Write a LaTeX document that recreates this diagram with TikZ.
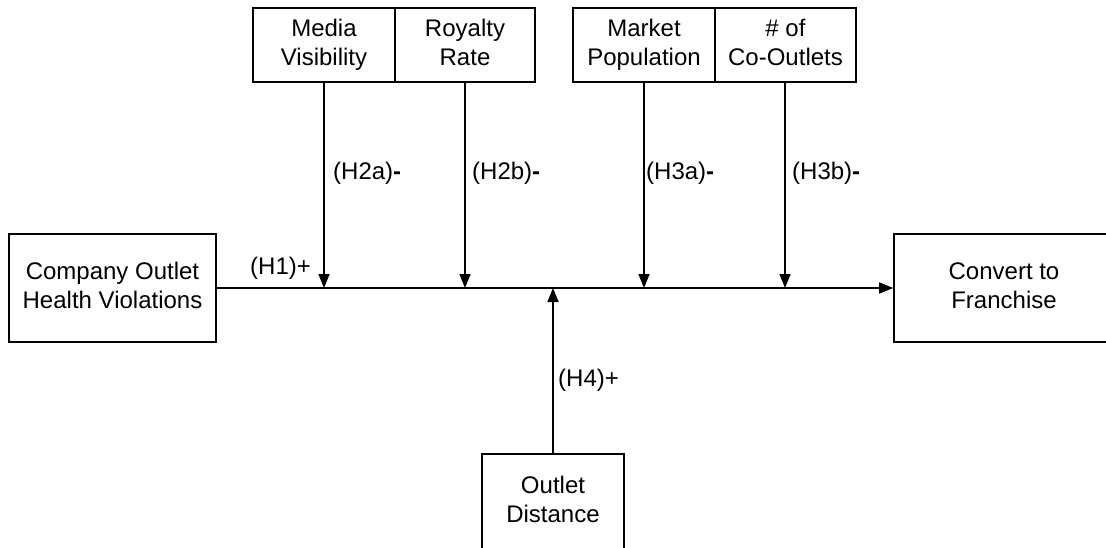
\documentclass[tikz,border=0pt]{standalone}
\usepackage{fontspec}
\setmainfont{Liberation Sans}
\usetikzlibrary{arrows.meta}
\begin{document}
\begin{tikzpicture}[x=1pt,y=-1pt,
  box/.style={draw=black,line width=1.6pt,align=center,inner sep=0pt,
    font=\fontsize{24}{29}\selectfont},
  conn/.style={line width=1.6pt,-{Triangle[length=14pt,width=11pt]}},
  lab/.style={anchor=west,inner sep=0pt,font=\fontsize{24}{29}\selectfont}]
\useasboundingbox (0,0) rectangle (1106,548);
\clip (0,0) rectangle (1106,548);
% top boxes
\node[box,minimum width=142pt,minimum height=74pt] (mv) at (324,45) {\strut Media\\\strut Visibility};
\node[box,minimum width=140pt,minimum height=74pt] (rr) at (465,45) {\strut Royalty\\\strut Rate};
\node[box,minimum width=142pt,minimum height=74pt] (mp) at (644,45) {\strut Market\\\strut Population};
\node[box,minimum width=141pt,minimum height=74pt] (co) at (785.5,45) {\strut \# of\\\strut Co-Outlets};
% side boxes
\node[box,minimum width=207pt,minimum height=108pt] (cv) at (112.5,288) {\strut Company Outlet\\\strut Health Violations};
\node[box,minimum width=220pt,minimum height=108pt] (cf) at (1004,288) {\strut Convert to\\\strut Franchise};
\node[box,minimum width=142pt,minimum height=96pt] (od) at (553,502) {\strut Outlet\\\strut Distance};
% junctions
\coordinate (j1) at (324,288);
\coordinate (j2) at (465,288);
\coordinate (j3) at (644,288);
\coordinate (j4) at (785,288);
\coordinate (j5) at (553,288);
% connectors
\draw[conn] (cv.east) -- (cf.west);
\draw[conn] (mv.south) -- (j1);
\draw[conn] (rr.south) -- (j2);
\draw[conn] (mp.south) -- (j3);
\draw[conn] (co.south-|j4) -- (j4);
\draw[conn] (od.north) -- (j5);
% labels
\node[lab] (l1) at (250,268) {(H1)+};
\node[lab] (l2a) at (333,173) {(H2a)\textbf{-}};
\node[lab] (l2b) at (472,173) {(H2b)\textbf{-}};
\node[lab] (l3a) at (646,173) {(H3a)\textbf{-}};
\node[lab] (l3b) at (792,173) {(H3b)\textbf{-}};
\node[lab] (l4) at (558,380) {(H4)+};
\end{tikzpicture}
\end{document}
